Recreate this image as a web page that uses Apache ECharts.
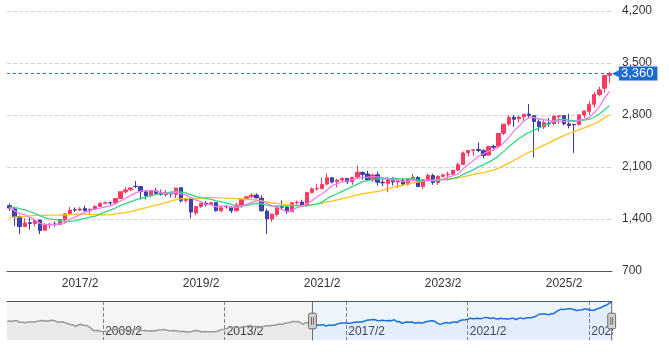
<!DOCTYPE html>
<html>
<head>
<meta charset="utf-8">
<script src="https://cdn.jsdelivr.net/npm/echarts@6/dist/echarts.min.js"></script>
<style>
html,body{margin:0;padding:0;background:#fff;}
#chart{width:669px;height:358px;}
</style>
</head>
<body>
<div id="chart"></div>
<script>
// Monthly closes 2005/12 .. 2015/11 (navigator only)
const histClose = [1650,
 1704,1690,1728,1718,1593,1585,1553,1605,1611,1616,1614,1681,
 1722,1753,1714,1706,1742,1775,1704,1608,1617,1639,1531,1476,
 1375,1375,1213,1330,1408,1320,1304,1254,1087,867,831,859,
 794,757,774,838,898,930,950,965,910,895,849,908,
 901,894,979,987,880,841,850,805,830,811,861,899,
 910,951,869,852,838,849,841,771,761,764,728,729,
 761,836,854,804,719,770,737,732,737,742,781,860,
 940,976,1035,1165,1136,1134,1132,1106,1194,1194,1259,1302,
 1221,1212,1203,1162,1201,1263,1289,1278,1326,1334,1410,1408,
 1415,1524,1543,1593,1674,1630,1660,1537,1411,1558,1580];

// Monthly candles 2015/12 .. 2025/11
const open = [1580,
 1535,1430,1300,1350,1340,1385,1250,1320,1333,1325,1390,1472,
 1525,1520,1540,1510,1535,1570,1612,1620,1617,1676,1766,1795,
 1840,1836,1765,1712,1780,1750,1728,1755,1730,1820,1650,1670,
 1480,1568,1612,1595,1620,1510,1568,1560,1510,1590,1670,1700,
 1722,1680,1505,1400,1460,1565,1560,1500,1620,1628,1580,1757,
 1805,1810,1870,1955,1900,1925,1945,1900,1965,2025,2005,1925,
 1995,1895,1880,1950,1900,1915,1870,1940,1960,1835,1930,1985,
 1890,1975,1995,2005,2060,2135,2290,2325,2335,2320,2260,2378,
 2380,2555,2680,2770,2750,2775,2812,2790,2710,2640,2690,2685,
 2780,2790,2680,2672,2670,2800,2850,2945,3075,3160,3335];
const close = [1547,
 1432,1298,1347,1341,1380,1246,1323,1330,1323,1393,1469,1519,
 1522,1535,1513,1532,1568,1612,1619,1617,1675,1766,1792,1818,
 1837,1768,1716,1777,1747,1731,1753,1735,1817,1646,1667,1494,
 1567,1608,1592,1618,1512,1551,1565,1512,1588,1667,1699,1721,
 1684,1511,1403,1464,1564,1559,1496,1618,1625,1579,1755,1805,
 1809,1864,1954,1898,1923,1944,1901,1961,2030,2001,1928,1992,
 1896,1887,1946,1900,1913,1871,1940,1963,1836,1929,1986,1892,
 1975,1993,2004,2057,2131,2289,2323,2332,2323,2254,2375,2366,
 2551,2676,2769,2743,2772,2810,2794,2713,2646,2696,2681,2785,
 2789,2682,2659,2667,2802,2853,2943,3075,3138,3332,3360];
const low = [1510,
 1301,1196,1290,1255,1300,1197,1240,1270,1300,1318,1337,1463,
 1495,1505,1500,1455,1525,1565,1600,1580,1593,1672,1740,1775,
 1815,1661,1664,1700,1738,1715,1700,1690,1680,1620,1620,1408,
 1450,1550,1570,1585,1500,1490,1540,1480,1505,1550,1660,1680,
 1680,1500,1199,1360,1430,1520,1470,1490,1590,1575,1570,1745,
 1780,1800,1850,1880,1825,1900,1870,1860,1950,1930,1920,1900,
 1850,1840,1760,1850,1820,1855,1850,1930,1835,1810,1925,1860,
 1860,1960,1920,1990,2040,2130,2240,2250,2300,2220,2255,2320,
 2375,2530,2650,2640,2700,2720,2760,2227,2580,2610,2640,2660,
 2680,2660,2620,2288,2660,2760,2800,2900,3050,3100,3230];
const high = [1610,
 1545,1447,1410,1425,1395,1390,1345,1348,1365,1400,1480,1560,
 1555,1560,1580,1540,1585,1620,1635,1632,1678,1768,1831,1830,
 1911,1840,1790,1780,1820,1795,1790,1770,1822,1830,1680,1690,
 1570,1620,1640,1630,1625,1560,1590,1570,1620,1670,1710,1747,
 1745,1720,1540,1475,1570,1650,1580,1625,1650,1660,1760,1825,
 1875,1960,2012,1965,1940,1960,1950,1965,2118,2040,2050,2010,
 2040,1960,1965,1960,1930,1955,1945,2008,1975,1940,2010,2010,
 1985,2010,2040,2060,2160,2310,2330,2340,2430,2340,2380,2400,
 2560,2680,2800,2800,2790,2815,2946,2800,2750,2730,2760,2790,
 2800,2800,2815,2680,2810,2860,2990,3110,3180,3340,3385];

// Moving averages (6, 12, 24 months) 2015/12 .. 2025/11
const ma6 = [1549,
 1511,1471,1460,1424,1391,1341,1323,1328,1324,1333,1347,1393,
 1426,1460,1492,1515,1532,1547,1563,1577,1604,1643,1680,1715,
 1751,1776,1783,1785,1777,1763,1749,1743,1760,1738,1725,1685,
 1654,1633,1596,1591,1565,1575,1574,1558,1558,1566,1597,1625,
 1645,1645,1614,1580,1558,1531,1500,1517,1554,1574,1605,1646,
 1699,1740,1794,1848,1876,1899,1914,1930,1943,1960,1961,1969,
 1968,1956,1942,1925,1922,1902,1910,1922,1904,1909,1921,1924,
 1930,1935,1963,1985,2009,2075,2133,2189,2243,2275,2316,2329,
 2367,2424,2499,2580,2646,2720,2761,2767,2746,2739,2723,2719,
 2718,2713,2715,2711,2731,2742,2768,2833,2913,3024,3117];
const ma12 = [1556,
 1557,1539,1522,1501,1477,1445,1417,1399,1392,1378,1369,1367,
 1374,1394,1408,1424,1439,1470,1495,1519,1548,1579,1606,1631,
 1657,1676,1693,1714,1729,1739,1750,1760,1771,1761,1751,1724,
 1702,1688,1678,1665,1645,1630,1614,1596,1577,1578,1581,1600,
 1610,1602,1586,1573,1577,1578,1572,1581,1584,1577,1582,1589,
 1599,1628,1674,1711,1740,1773,1806,1835,1869,1904,1918,1934,
 1941,1943,1942,1942,1942,1936,1939,1939,1923,1917,1922,1913,
 1920,1929,1934,1947,1965,2000,2032,2062,2103,2130,2162,2202,
 2250,2307,2371,2428,2481,2525,2564,2596,2622,2659,2685,2720,
 2740,2740,2731,2725,2727,2731,2743,2773,2814,2867,2924];
const ma24 = [1416,
 1425,1428,1434,1442,1449,1448,1450,1452,1452,1454,1457,1461,
 1466,1466,1465,1463,1458,1457,1456,1459,1470,1479,1487,1499,
 1516,1535,1551,1569,1584,1604,1622,1639,1660,1670,1678,1677,
 1679,1682,1686,1689,1687,1684,1682,1678,1674,1670,1666,1662,
 1656,1645,1632,1619,1611,1604,1593,1588,1580,1578,1581,1594,
 1604,1615,1630,1642,1659,1675,1689,1708,1726,1740,1750,1761,
 1770,1786,1808,1826,1841,1854,1873,1887,1896,1910,1920,1924,
 1930,1936,1938,1945,1953,1968,1985,2001,2013,2023,2042,2058,
 2085,2118,2152,2187,2223,2262,2298,2329,2363,2395,2424,2461,
 2495,2523,2551,2576,2604,2628,2653,2684,2718,2763,2804];

// Categories: 2005/12 .. 2025/11
const months = [];
for (let k = 0; k < histClose.length + close.length; k++) {
  const y = 2005 + Math.floor((11 + k) / 12);
  const m = (11 + k) % 12 + 1;
  months.push(y + '/' + m);
}
const windowStart = histClose.length;
const pad = histClose.map(() => '-');

function isMainTick(v) { const [y, m] = v.split('/'); return m === '2' && (+y) % 2 === 1; }
function isNavTick(v) { const [y, m] = v.split('/'); return m === '2' && ((+y) - 2009) % 4 === 0; }
const fmt = v => Number(v).toLocaleString('en-US');

const candleData = pad.concat(open.map((o, i) => [o, close[i], low[i], high[i]]));
const BLUE = '#1a6ad0';

const chart = echarts.init(document.getElementById('chart'));
chart.setOption({
  animation: false,
  textStyle: { fontFamily: '"Liberation Sans", Arial, sans-serif' },
  grid: [
    { left: 7, right: 57, top: 11, bottom: 87 },
    { left: 7, right: 57, top: 301, height: 39 }
  ],
  graphic: [
    { type: 'rect', right: 0, top: 302, z: 3, silent: true,
      shape: { width: 56, height: 40 }, style: { fill: '#fff' } }
  ],
  xAxis: [
    { type: 'category', gridIndex: 0, data: months, boundaryGap: true,
      axisLine: { lineStyle: { color: '#555', width: 1 } }, axisTick: { show: false },
      axisLabel: { color: '#333', fontSize: 12, margin: 7, interval: (i, v) => isMainTick(v) },
      splitLine: { show: false } },
    { type: 'category', gridIndex: 1, data: months, boundaryGap: false,
      axisLine: { show: false }, axisTick: { show: false },
      axisLabel: { inside: true, align: 'left', padding: [0, 0, 0, 2], color: '#444', fontSize: 12, margin: 2,
        interval: (i, v) => isNavTick(v) },
      splitLine: { show: true, interval: (i, v) => isNavTick(v), lineStyle: { color: '#888', type: 'dashed', width: 1 } } },
    { type: 'category', gridIndex: 1, data: months, boundaryGap: false, position: 'top',
      axisLine: { show: true, lineStyle: { color: '#555', width: 1 } }, axisTick: { show: false },
      axisLabel: { show: false }, splitLine: { show: false } }
  ],
  yAxis: [
    { type: 'value', gridIndex: 0, position: 'right', min: 700, max: 4200, interval: 700,
      axisLine: { show: false }, axisTick: { show: false },
      axisLabel: { color: '#333', fontSize: 12, margin: 10, formatter: fmt },
      splitLine: { lineStyle: { color: '#d5d5d5', type: 'dashed', width: 1 } } },
    { type: 'value', gridIndex: 1, min: 0, max: 3500, show: false, splitLine: { show: false } }
  ],
  dataZoom: [{
    type: 'slider', xAxisIndex: 0, startValue: windowStart, endValue: months.length - 1,
    left: 7, right: 57, top: 301, height: 39, z: 4,
    showDataShadow: false, showDetail: false,
    backgroundColor: 'rgba(0,0,0,0)', fillerColor: 'rgba(0,0,0,0)', borderColor: 'rgba(0,0,0,0)',
    handleIcon: 'path://M4,0 V12 M4,28 V40 M1.5,12 h5 a1.5,1.5 0 0 1 1.5,1.5 v13 a1.5,1.5 0 0 1 -1.5,1.5 h-5 a1.5,1.5 0 0 1 -1.5,-1.5 v-13 a1.5,1.5 0 0 1 1.5,-1.5 z M3,16 V24 M5,16 V24',
    handleSize: '100%',
    handleStyle: { color: '#d2d2d2', borderColor: '#6a6a6a', borderWidth: 1 },
    moveHandleSize: 1,
    moveHandleStyle: { color: '#555', opacity: 1 },
    emphasis: { handleStyle: { color: '#d2d2d2', borderColor: '#6a6a6a' }, moveHandleStyle: { color: '#555', opacity: 1 } }
  }],
  series: [
    { name: 'candle', type: 'candlestick', xAxisIndex: 0, yAxisIndex: 0, data: candleData, barWidth: '74%',
      itemStyle: { color: '#ff3a62', color0: '#4343b8', borderColor: '#ff3a62', borderColor0: '#3a3aa6', borderWidth: 1 },
      markLine: { silent: true, symbol: ['none', 'none'],
        lineStyle: { color: '#2a6cc6', type: [3, 3], width: 1 },
        label: { position: 'end', distance: 0,
          formatter: p => '{a|\u25C0}{b|' + fmt(p.value) + '}',
          rich: {
            a: { color: BLUE, fontSize: 9, lineHeight: 13, fontFamily: '"DejaVu Sans", sans-serif' },
            b: { color: '#fff', fontSize: 13, lineHeight: 13, backgroundColor: BLUE, padding: [1, 4, 0, 2] }
          } },
        data: [{ yAxis: close[close.length - 1] }] } },
    { name: 'MA24', type: 'line', xAxisIndex: 0, yAxisIndex: 0, data: pad.concat(ma24), showSymbol: false,
      lineStyle: { color: '#ffc31a', width: 1.3 }, itemStyle: { color: '#ffc31a' } },
    { name: 'MA12', type: 'line', xAxisIndex: 0, yAxisIndex: 0, data: pad.concat(ma12), showSymbol: false,
      lineStyle: { color: '#2fd883', width: 1.3 }, itemStyle: { color: '#2fd883' } },
    { name: 'MA6', type: 'line', xAxisIndex: 0, yAxisIndex: 0, data: pad.concat(ma6), showSymbol: false,
      lineStyle: { color: '#f47cf0', width: 1.3 }, itemStyle: { color: '#f47cf0' } },
    { name: 'navPast', type: 'line', xAxisIndex: 1, yAxisIndex: 1, data: histClose.concat([close[0]]), showSymbol: false,
      lineStyle: { color: '#9a9a9a', width: 1.5 }, itemStyle: { color: '#9a9a9a' },
      areaStyle: { color: 'rgba(0,0,0,0.07)' },
      markArea: { silent: true, data: [
        [{ xAxis: months[0], itemStyle: { color: 'rgba(0,0,0,0.04)' } }, { xAxis: months[windowStart] }],
        [{ xAxis: months[windowStart], itemStyle: { color: 'rgba(20,110,220,0.075)' } }, { xAxis: months[months.length - 1] }]
      ] } },
    { name: 'navSel', type: 'line', xAxisIndex: 1, yAxisIndex: 1, data: pad.concat(close), showSymbol: false,
      lineStyle: { color: '#1a6fd6', width: 1.5 }, itemStyle: { color: '#1a6fd6' },
      areaStyle: { color: 'rgba(20,110,220,0.06)' } }
  ]
});
</script>
</body>
</html>
